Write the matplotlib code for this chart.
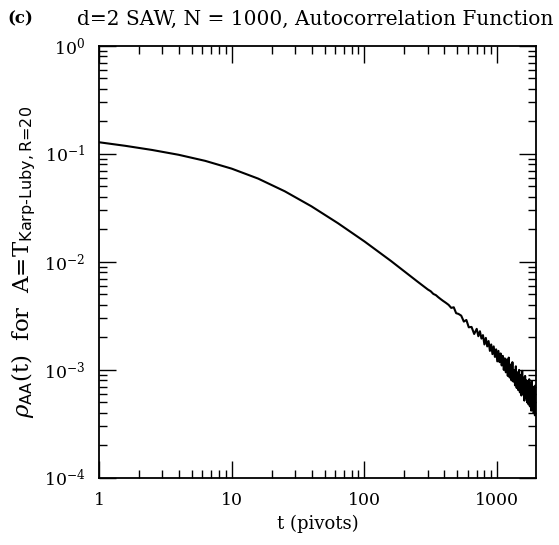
import numpy as np
import matplotlib
matplotlib.use("Agg")
import matplotlib.pyplot as plt
from matplotlib.ticker import LogLocator, FixedLocator, NullFormatter

plt.rcParams['font.family'] = ['DejaVu Serif']
plt.rcParams['mathtext.fontset'] = 'custom'
plt.rcParams['mathtext.rm'] = 'DejaVu Sans'
plt.rcParams['mathtext.it'] = 'DejaVu Serif:italic'
plt.rcParams['mathtext.bf'] = 'DejaVu Serif:bold'

# smooth part of the autocorrelation curve
t_smooth = [1, 1.58, 2.51, 3.98, 6.31, 10, 15.8, 25.1, 39.8, 63.1, 100, 158, 251]
rho_smooth = [0.128, 0.1186, 0.1086, 0.0980, 0.0861, 0.0729, 0.0590, 0.0450,
              0.0327, 0.0228, 0.01545, 0.01021, 0.00656]

# noisy tail
t_tail = [300, 315, 330, 345, 360, 375, 390, 410, 430, 450, 470, 490, 510, 535,
          560, 585, 610, 640, 670,
          700, 720, 740, 760, 780, 800, 820, 840, 860, 880, 900, 920, 940, 960,
          980, 1000, 1020, 1040, 1060, 1080, 1100, 1120, 1140, 1160, 1180, 1200,
          1220, 1240, 1260, 1280, 1300, 1320, 1340, 1360, 1380, 1400, 1420, 1440,
          1460, 1480, 1500, 1520, 1540, 1560, 1580, 1600, 1620, 1640, 1660, 1680,
          1700, 1720, 1740, 1760, 1780, 1800, 1820, 1840, 1860, 1880, 1900, 1920,
          1940, 1960]
rho_tail = [0.00555, 0.00535, 0.00505, 0.00492, 0.00470, 0.00452, 0.00436,
            0.00418, 0.00400, 0.00375, 0.00380, 0.00335, 0.00330, 0.00318,
            0.00280, 0.00290, 0.00248, 0.00250, 0.00215,
            0.00240, 0.00205, 0.00228, 0.00195, 0.00210, 0.00172, 0.00198,
            0.00165, 0.00185, 0.00150, 0.00172, 0.00140, 0.00165, 0.00132,
            0.00155, 0.00120, 0.00150, 0.00118, 0.00142, 0.00110, 0.00135,
            0.00100, 0.00128, 0.00095, 0.00125, 0.00088, 0.00130, 0.00085,
            0.00112, 0.00080, 0.00118, 0.00078, 0.00100, 0.00072, 0.00108,
            0.00068, 0.00095, 0.00065, 0.00100, 0.00062, 0.00090, 0.00058,
            0.00098, 0.00060, 0.00085, 0.00052, 0.00088, 0.00055, 0.00080,
            0.00050, 0.00078, 0.00048, 0.00082, 0.00046, 0.00072, 0.00042,
            0.00078, 0.00045, 0.00070, 0.00040, 0.00068, 0.00038, 0.00072,
            0.00048]

t = np.array(t_smooth + t_tail)
rho = np.array(rho_smooth + rho_tail)

x_ticks = [1, 10, 100, 1000]
x_labels = ['1', '10', '100', '1000']

fig = plt.figure(figsize=(5.59, 5.45), dpi=100)
ax = fig.add_axes([0.177, 0.123, 0.782, 0.793])

ax.plot(t, rho, color='black', lw=1.5)

ax.set_xscale('log')
ax.set_yscale('log')
ax.set_xlim(1, 1960)
ax.set_ylim(1e-4, 1)

ax.xaxis.set_major_locator(FixedLocator(x_ticks))
ax.set_xticklabels(x_labels)
ax.xaxis.set_minor_locator(LogLocator(base=10, subs=np.arange(2, 10)))
ax.xaxis.set_minor_formatter(NullFormatter())
ax.yaxis.set_major_locator(LogLocator(base=10, numticks=10))
ax.yaxis.set_minor_locator(LogLocator(base=10, subs=np.arange(2, 10), numticks=10))
ax.yaxis.set_minor_formatter(NullFormatter())

ax.tick_params(which='both', direction='in', top=True, right=True, labelsize=12.5, width=1)
ax.tick_params(which='major', length=12, pad=10)
ax.tick_params(which='minor', length=6)
for s in ax.spines.values():
    s.set_linewidth(1.3)

ax.set_xlabel('t (pivots)', fontsize=13, labelpad=4)
ax.set_ylabel(r'$\rho_{\mathrm{AA}}$(t)  for  A=T$_{\mathrm{Karp\text{-}Luby,R\text{=}20}}$',
              fontsize=16.5, labelpad=4)

fig.text(0.014, 0.965, '(c)', fontsize=12, fontweight='bold', va='center')
fig.text(0.563, 0.965, 'd=2 SAW, N = 1000, Autocorrelation Function',
         fontsize=14.5, ha='center', va='center')

fig.savefig('out.png', dpi=100)
